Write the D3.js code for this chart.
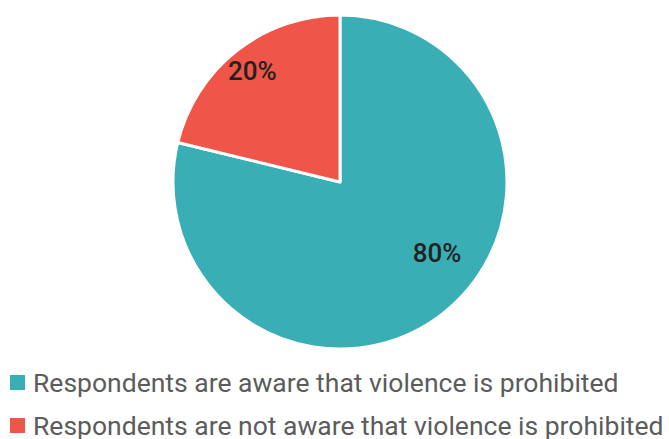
<!DOCTYPE html>
<html>
<head>
<meta charset="utf-8">
<script src="https://cdn.jsdelivr.net/npm/d3@7"></script>
<style>
  html, body { margin: 0; padding: 0; background: #fff; }
  svg { display: block; font-family: Roboto, sans-serif; }
</style>
</head>
<body>
<div id="chart"></div>
<script>
// slice data
var categories = ["Respondents are aware that violence is prohibited",
                  "Respondents are not aware that violence is prohibited"];
var shares = [78.8, 21.2];
var sliceLabels = ["80%", "20%"];
var colors = ["#3aaeb5", "#ef5549"];

var width = 669, height = 439;
var cx = 340, cy = 182, radius = 167;

var svg = d3.select("#chart").append("svg")
    .attr("width", width)
    .attr("height", height);

var pie = d3.pie().sort(null).value(function (d) { return d; });
var arcs = pie(shares);

var arc = d3.arc().innerRadius(0).outerRadius(radius);

var g = svg.append("g").attr("transform", "translate(" + cx + "," + cy + ")");

g.selectAll("path.slice")
    .data(arcs)
    .enter().append("path")
    .attr("class", "slice")
    .attr("d", arc)
    .attr("fill", function (d, i) { return colors[i]; })
    .attr("stroke", "#fff")
    .attr("stroke-width", 3)
    .attr("stroke-linejoin", "round");

// label placement: red one sits on its mid angle, the big one is pulled up a bit
var labelPos = function (d, i) {
    var a = (d.startAngle + d.endAngle) / 2;
    var r = radius * 0.85;
    if (i === 0) { a = d.startAngle + (d.endAngle - d.startAngle) * 0.445; r = radius * 0.72; }
    return [Math.sin(a) * r, -Math.cos(a) * r];
};

g.selectAll("text.pct")
    .data(arcs)
    .enter().append("text")
    .attr("class", "pct")
    .attr("x", function (d, i) { return labelPos(d, i)[0]; })
    .attr("y", function (d, i) { return labelPos(d, i)[1]; })
    .attr("dy", "0.36em")
    .attr("text-anchor", "middle")
    .attr("font-size", 26)
    .attr("font-weight", 500)
    .attr("fill", "#222")
    .text(function (d, i) { return sliceLabels[i]; });

// legend
var legend = svg.append("g").attr("transform", "translate(10,375)");
var item = legend.selectAll("g.item")
    .data(categories)
    .enter().append("g")
    .attr("class", "item")
    .attr("transform", function (d, i) { return "translate(0," + (i * 43) + ")"; });

item.append("rect")
    .attr("width", 15)
    .attr("height", 15)
    .attr("fill", function (d, i) { return colors[i]; });

item.append("text")
    .attr("x", 23)
    .attr("y", 17)
    .attr("font-size", 26.5)
    .attr("fill", "#5c5c5c")
    .text(function (d) { return d; });
</script>
</body>
</html>
